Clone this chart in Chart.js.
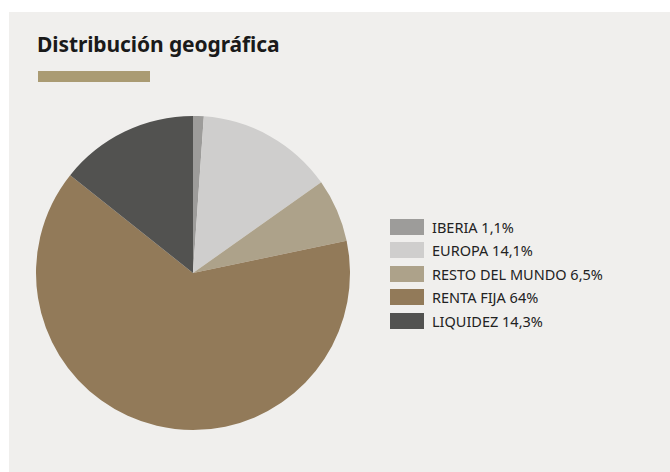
<!DOCTYPE html>
<html>
<head>
<meta charset="utf-8">
<script src="https://cdn.jsdelivr.net/npm/chart.js@4.4.0/dist/chart.umd.min.js"></script>
<style>
  html, body { margin: 0; padding: 0; background: #ffffff; }
  body { width: 670px; height: 472px; position: relative; overflow: hidden; font-family: "Noto Sans", sans-serif; }
  #panel { position: absolute; left: 9px; top: 12px; width: 661px; height: 460px; background: #f0efed; }
  #title { position: absolute; left: 28px; top: 18px; margin: 0; font-size: 21px; font-weight: 700; color: #1a1a1a; letter-spacing: -0.1px; }
  #bar { position: absolute; left: 29px; top: 59px; width: 112px; height: 11px; background: #aa9b73; }
  #pieWrap { position: absolute; left: 24px; top: 101px; width: 320px; height: 320px; }
  #legend { position: absolute; left: 381px; top: 203px; margin: 0; padding: 0; list-style: none; }
  #legend li { height: 23.5px; display: flex; align-items: center; font-size: 14.5px; color: #222; }
  #legend span.box { display: inline-block; width: 34px; height: 16px; margin-right: 8px; }
</style>
</head>
<body>
<div id="panel">
  <h1 id="title">Distribución geográfica</h1>
  <div id="bar"></div>
  <div id="pieWrap"><canvas id="chartCanvas" width="320" height="320"></canvas></div>
  <ul id="legend"></ul>
</div>
<script>
const categories = ['IBERIA', 'EUROPA', 'RESTO DEL MUNDO', 'RENTA FIJA', 'LIQUIDEZ'];
const values = [1.1, 14.1, 6.5, 64, 14.3];
const colors = ['#9d9c9a', '#cfcecd', '#ada28a', '#927a59', '#525250'];

const labels = categories.map((c, i) => c + ' ' + String(values[i]).replace('.', ',') + '%');

const ctx = document.getElementById('chartCanvas').getContext('2d');
const chart = new Chart(ctx, {
    type: 'pie',
    data: {
        labels: labels,
        datasets: [{
            data: values,
            backgroundColor: colors,
            borderWidth: 0
        }]
    },
    options: {
        responsive: false,
        animation: false,
        layout: { padding: 3 },
        plugins: {
            legend: { display: false },
            tooltip: { enabled: false }
        }
    }
});

// legend built from the chart's own label items
const legendEl = document.getElementById('legend');
chart.options.plugins.legend.labels.generateLabels(chart).forEach(item => {
    const li = document.createElement('li');
    const box = document.createElement('span');
    box.className = 'box';
    box.style.background = item.fillStyle;
    li.appendChild(box);
    li.appendChild(document.createTextNode(item.text));
    legendEl.appendChild(li);
});
</script>
</body>
</html>
